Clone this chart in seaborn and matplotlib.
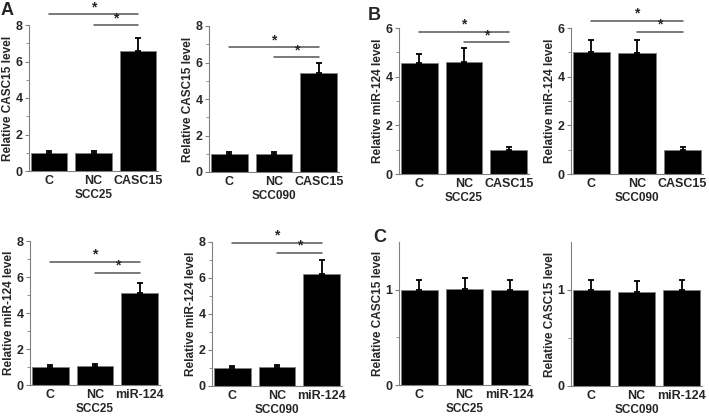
import matplotlib
matplotlib.use('Agg')
import matplotlib.pyplot as plt
import seaborn as sns
import pandas as pd

# --- data ---
groups_casc = ['C', 'NC', 'CASC15']
groups_mir = ['C', 'NC', 'miR-124']

a_scc25 = [1.0, 0.98, 6.6]
a_scc25_err = [0.1, 0.1, 0.7]
a_scc090 = [1.0, 0.97, 5.4]
a_scc090_err = [0.1, 0.1, 0.55]

b_scc25 = [4.55, 4.6, 1.0]
b_scc25_err = [0.4, 0.57, 0.1]
b_scc090 = [5.0, 4.97, 1.0]
b_scc090_err = [0.5, 0.55, 0.1]

d_scc25 = [1.0, 1.07, 5.1]
d_scc25_err = [0.1, 0.12, 0.55]
d_scc090 = [1.0, 1.07, 6.2]
d_scc090_err = [0.1, 0.12, 0.8]

c_scc25 = [1.0, 1.01, 1.0]
c_scc25_err = [0.1, 0.11, 0.1]
c_scc090 = [1.0, 0.98, 1.0]
c_scc090_err = [0.1, 0.11, 0.1]

sns.set_style('white')
plt.rcParams['font.family'] = ['Liberation Sans', 'DejaVu Sans']
plt.rcParams['font.weight'] = 'bold'

W, H = 709, 420
fig = plt.figure(figsize=(W / 100, H / 100), dpi=100)
GRAY = '#808080'


def px_axes(x0, x1, ytop, ybot):
    return fig.add_axes([x0 / W, 1 - ybot / H, (x1 - x0) / W, (ybot - ytop) / H])


def panel(ax, cats, vals, errs, ylabel, xlabel, ylim, yticks, minor, sig=None):
    df = pd.DataFrame({'group': cats, 'value': vals})
    sns.barplot(data=df, x='group', y='value', color='black', width=0.82,
                edgecolor=GRAY, linewidth=0.6, errorbar=None, ax=ax)
    ax.errorbar(range(len(vals)), vals, yerr=[[0] * len(errs), errs], fmt='none',
                ecolor='black', elinewidth=1.3, capsize=2.5, capthick=1.3)
    ax.set_xlim(-0.45, len(vals) - 0.55)
    ax.set_ylim(*ylim)
    ax.set_yticks(yticks)
    ax.set_yticklabels([f'{t:g}' for t in yticks], fontsize=9, fontweight='bold')
    ax.set_yticks(minor, minor=True)
    ax.tick_params(axis='x', labelsize=9, length=0, pad=3)
    ax.tick_params(axis='y', which='major', length=3, width=0.8, color=GRAY, pad=1.5, left=True)
    ax.tick_params(axis='y', which='minor', length=2, width=0.6, color=GRAY, left=True)
    for lab in ax.get_xticklabels():
        lab.set_fontweight('bold')
    sns.despine(ax=ax)
    for s in ('left', 'bottom'):
        ax.spines[s].set_color(GRAY)
        ax.spines[s].set_linewidth(0.8)
    ax.set_ylabel(ylabel, fontsize=8.5, fontweight='bold', labelpad=1.5)
    ax.set_xlabel(xlabel, fontsize=8.5, fontweight='bold', labelpad=1)
    if sig:
        top, low = sig
        n = len(vals) - 1
        for x0, yy in ((0, top), (1, low)):
            ax.plot([x0, n], [yy, yy], color='#555555', lw=1.1, clip_on=False)
            ax.text((x0 + n) / 2, yy, '*', ha='center', va='bottom', fontsize=10,
                    fontweight='bold', clip_on=False)


ax = px_axes(29, 158, 25, 171)
panel(ax, groups_casc, a_scc25, a_scc25_err, 'Relative CASC15 level', 'SCC25',
      (0, 8), [0, 2, 4, 6, 8], [1, 3, 5, 7], sig=(8.6, 8.0))
ax = px_axes(209, 339, 26, 172)
panel(ax, groups_casc, a_scc090, a_scc090_err, 'Relative CASC15 level', 'SCC090',
      (0, 8), [0, 2, 4, 6, 8], [1, 3, 5, 7], sig=(6.85, 6.3))
ax = px_axes(399, 529, 28, 174)
panel(ax, groups_casc, b_scc25, b_scc25_err, 'Relative miR-124 level', 'SCC25',
      (0, 6), [0, 2, 4, 6], [1, 3, 5], sig=(5.84, 5.42))
ax = px_axes(571, 703, 28, 174)
panel(ax, groups_casc, b_scc090, b_scc090_err, 'Relative miR-124 level', 'SCC090',
      (0, 6), [0, 2, 4, 6], [1, 3, 5], sig=(6.29, 5.84))
ax = px_axes(30, 160, 241, 385)
panel(ax, groups_mir, d_scc25, d_scc25_err, 'Relative miR-124 level', 'SCC25',
      (0, 8), [0, 2, 4, 6, 8], [1, 3, 5, 7], sig=(6.84, 6.23))
ax = px_axes(212, 342, 242, 386)
panel(ax, groups_mir, d_scc090, d_scc090_err, 'Relative miR-124 level', 'SCC090',
      (0, 8), [0, 2, 4, 6, 8], [1, 3, 5, 7], sig=(7.95, 7.4))
ax = px_axes(399, 530, 242, 385)
panel(ax, groups_mir, c_scc25, c_scc25_err, 'Relative CASC15 level', 'SCC25',
      (0, 1.5), [0, 1], [0.5])
ax = px_axes(571, 702, 242, 386)
panel(ax, groups_mir, c_scc090, c_scc090_err, 'Relative CASC15 level', 'SCC090',
      (0, 1.5), [0, 1], [0.5])

for letter, x, y in (('A', 1, 2), ('B', 368, 7), ('C', 373, 229)):
    fig.text(x / W, 1 - y / H, letter, fontsize=13, fontweight='bold', va='top', ha='left')

fig.savefig('out.png', dpi=100)
